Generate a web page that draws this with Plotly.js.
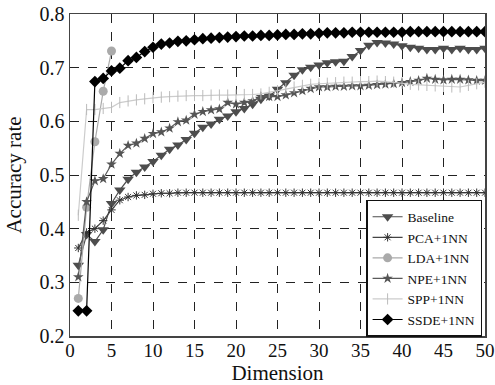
<!DOCTYPE html>
<html><head><meta charset="utf-8">
<script src="https://cdn.plot.ly/plotly-3.0.1.min.js"></script>
<style>body{margin:0;background:#fff}#chart{width:495px;height:385px}</style>
</head><body><div id="chart"></div>
<script>
var dims = [1,2,3,4,5,6,7,8,9,10,11,12,13,14,15,16,17,18,19,20,21,22,23,24,25,26,27,28,29,30,31,32,33,34,35,36,37,38,39,40,41,42,43,44,45,46,47,48,49,50];
var ldaDims = [1,2,3,4,5];

var baseline = [0.332,0.389,0.376,0.398,0.447,0.472,0.492,0.505,0.515,0.525,0.537,0.548,0.556,0.566,0.578,0.589,0.595,0.604,0.610,0.618,0.624,0.632,0.641,0.647,0.660,0.672,0.686,0.696,0.701,0.705,0.709,0.711,0.712,0.721,0.732,0.742,0.747,0.746,0.744,0.741,0.738,0.736,0.734,0.734,0.736,0.734,0.736,0.734,0.734,0.736];
var pca = [0.364,0.393,0.400,0.415,0.435,0.453,0.459,0.462,0.463,0.465,0.466,0.466,0.467,0.467,0.467,0.467,0.467,0.467,0.467,0.467,0.467,0.467,0.467,0.467,0.467,0.467,0.467,0.467,0.467,0.467,0.467,0.467,0.467,0.467,0.467,0.467,0.467,0.467,0.467,0.467,0.467,0.467,0.467,0.467,0.467,0.467,0.467,0.467,0.467,0.467];
var lda = [0.270,0.440,0.562,0.656,0.731];
var npe = [0.310,0.450,0.489,0.493,0.520,0.540,0.555,0.559,0.568,0.577,0.580,0.587,0.599,0.602,0.613,0.618,0.621,0.623,0.635,0.632,0.635,0.638,0.646,0.646,0.646,0.649,0.653,0.657,0.661,0.664,0.664,0.665,0.665,0.666,0.666,0.667,0.668,0.669,0.670,0.672,0.674,0.676,0.680,0.678,0.677,0.678,0.678,0.677,0.676,0.676];
var spp = [0.425,0.622,0.622,0.624,0.626,0.635,0.638,0.640,0.642,0.644,0.645,0.646,0.647,0.648,0.648,0.648,0.649,0.649,0.649,0.649,0.650,0.650,0.651,0.654,0.657,0.661,0.664,0.667,0.669,0.670,0.671,0.672,0.673,0.673,0.674,0.674,0.675,0.674,0.673,0.671,0.669,0.668,0.667,0.666,0.665,0.664,0.664,0.667,0.670,0.673];
var ssde = [0.247,0.247,0.674,0.680,0.694,0.699,0.713,0.719,0.730,0.738,0.744,0.746,0.749,0.750,0.752,0.754,0.755,0.756,0.757,0.758,0.759,0.759,0.760,0.760,0.761,0.762,0.762,0.763,0.763,0.764,0.765,0.765,0.765,0.766,0.766,0.766,0.766,0.766,0.766,0.766,0.767,0.767,0.767,0.767,0.767,0.767,0.767,0.767,0.767,0.767];

var names = ["Baseline","PCA+1NN","LDA+1NN","NPE+1NN","SPP+1NN","SSDE+1NN"];
var xTicks = [0,5,10,15,20,25,30,35,40,45,50];
var yTicks = [0.2,0.3,0.4,0.5,0.6,0.7,0.8];
var yTickText = ["0.2","0.3","0.4","0.5","0.6","0.7","0.8"];
var serif = "Liberation Serif, Times New Roman, serif";

var traces = [
  {x: dims, y: baseline, name: names[0], mode: "lines+markers",
   line: {color: "#4d4d4d", width: 1.2}, marker: {symbol: "triangle-down", size: 10, color: "#4d4d4d"}},
  {x: dims, y: pca, name: names[1], mode: "lines+markers",
   line: {color: "#444", width: 1.2}, marker: {symbol: "asterisk-open", size: 7, color: "#333", line: {width: 1, color: "#333"}}},
  {x: ldaDims, y: lda, name: names[2], mode: "lines+markers",
   line: {color: "#aaaaaa", width: 1.2}, marker: {symbol: "circle", size: 9, color: "#aaaaaa"}},
  {x: dims, y: npe, name: names[3], mode: "lines+markers",
   line: {color: "#5a5a5a", width: 1.2}, marker: {symbol: "star", size: 8, color: "#555"}},
  {x: dims, y: spp, name: names[4], mode: "lines+markers",
   line: {color: "#cccccc", width: 1.2}, marker: {symbol: "line-ns-open", size: 8, color: "#bbbbbb", line: {width: 1, color: "#bbbbbb"}}},
  {x: dims, y: ssde, name: names[5], mode: "lines+markers",
   line: {color: "#000", width: 1.2}, marker: {symbol: "diamond", size: 9, color: "#000"}}
];

var layout = {
  width: 495, height: 385,
  margin: {l: 70, r: 10, t: 14, b: 49},
  paper_bgcolor: "#fff", plot_bgcolor: "#fff",
  font: {family: serif, color: "#111", size: 16},
  showlegend: true,
  legend: {x: 0.993, y: -0.003, xanchor: "right", yanchor: "bottom",
    bgcolor: "#fff", bordercolor: "#111", borderwidth: 1.5,
    font: {family: serif, size: 13.5, color: "#111"}, tracegroupgap: 0},
  xaxis: {range: [0, 50], tickvals: xTicks,
    showgrid: true, gridcolor: "#222", griddash: "dash", gridwidth: 1,
    showline: true, linecolor: "#444", linewidth: 1.5, mirror: true, zeroline: false,
    ticks: "", ticklabelstandoff: -3, tickfont: {size: 19, family: serif},
    title: {text: "Dimension", font: {size: 21, family: serif}, standoff: 4}},
  yaxis: {range: [0.2, 0.8], tickvals: yTicks, ticktext: yTickText,
    showgrid: true, gridcolor: "#222", griddash: "dash", gridwidth: 1,
    showline: true, linecolor: "#444", linewidth: 1.5, mirror: true, zeroline: false,
    ticks: "", tickfont: {size: 20, family: serif},
    title: {text: "Accuracy rate", font: {size: 21, family: serif}, standoff: 12}}
};

Plotly.newPlot("chart", traces, layout, {displayModeBar: false, staticPlot: true});
</script>
</body></html>
